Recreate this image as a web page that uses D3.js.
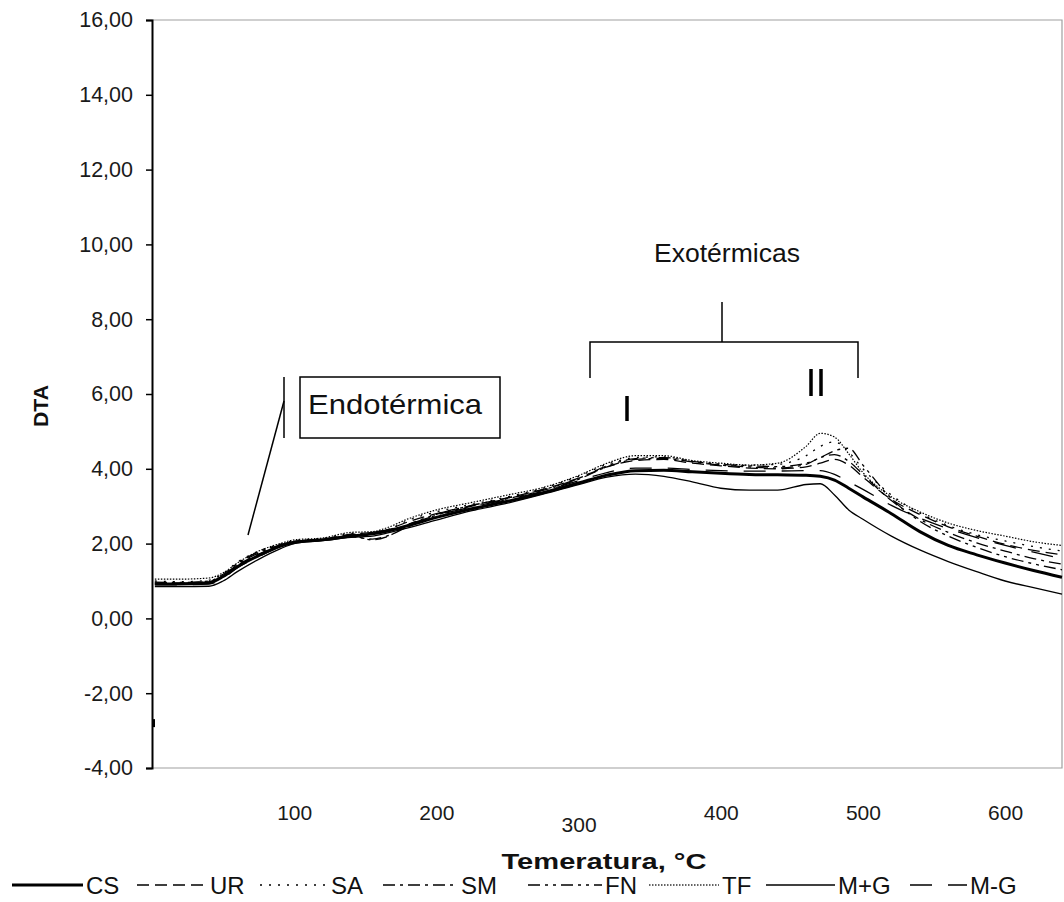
<!DOCTYPE html>
<html><head><meta charset="utf-8">
<script src="https://cdn.jsdelivr.net/npm/d3@7/dist/d3.min.js"></script>
<style>body{margin:0;background:#fff}svg{display:block}text{font-family:"Liberation Sans",Arial,sans-serif}</style>
</head><body><svg id="c" width="1064" height="902"></svg>
<script>
// ---- data ----
const temps = [2,20,40,50,60,75,90,100,120,140,155,165,180,200,225,250,275,300,320,340,360,380,400,420,440,460,470,480,490,500,520,540,560,580,600,620,640];
const seriesNames = ["CS","UR","SA","SM","FN","TF","M+G","M-G"];
const valsCS  = [0.92,0.92,0.95,1.12,1.38,1.68,1.93,2.03,2.10,2.20,2.26,2.33,2.48,2.70,2.93,3.13,3.36,3.62,3.83,3.95,3.96,3.92,3.88,3.85,3.84,3.83,3.80,3.70,3.48,3.25,2.80,2.32,1.95,1.70,1.48,1.28,1.10];
const valsUR  = [0.95,0.95,0.98,1.15,1.42,1.72,1.95,2.06,2.12,2.25,2.30,2.37,2.58,2.80,3.02,3.22,3.45,3.75,4.05,4.22,4.25,4.15,4.08,4.02,4.00,4.05,4.15,4.25,4.10,3.78,3.18,2.78,2.45,2.20,1.98,1.82,1.70];
const valsSA  = [1.00,0.98,1.02,1.20,1.50,1.80,1.98,2.08,2.14,2.27,2.28,2.36,2.62,2.85,3.05,3.25,3.48,3.80,4.12,4.30,4.32,4.20,4.12,4.10,4.12,4.35,4.60,4.72,4.45,4.00,3.30,2.82,2.48,2.24,2.07,1.92,1.80];
const valsSM  = [0.93,0.94,0.97,1.14,1.44,1.75,1.96,2.05,2.10,2.18,2.12,2.20,2.45,2.76,3.00,3.20,3.42,3.72,4.05,4.25,4.28,4.18,4.10,4.05,4.02,4.12,4.30,4.38,4.20,3.85,3.15,2.65,2.30,2.02,1.80,1.60,1.45];
const valsFN  = [0.97,0.96,1.00,1.18,1.47,1.78,1.97,2.06,2.11,2.20,2.10,2.18,2.50,2.78,3.02,3.22,3.44,3.74,4.08,4.27,4.30,4.20,4.12,4.08,4.06,4.15,4.30,4.48,4.55,4.10,3.20,2.60,2.20,1.90,1.65,1.46,1.30];
const valsTF  = [1.05,1.05,1.08,1.22,1.48,1.80,2.00,2.10,2.15,2.30,2.32,2.42,2.66,2.90,3.10,3.30,3.50,3.82,4.15,4.35,4.35,4.22,4.15,4.10,4.15,4.60,4.95,4.85,4.40,3.90,3.25,2.85,2.55,2.35,2.20,2.05,1.95];
const valsMpG = [0.85,0.85,0.86,1.00,1.25,1.58,1.86,2.00,2.08,2.17,2.20,2.28,2.42,2.63,2.88,3.08,3.32,3.58,3.78,3.86,3.80,3.65,3.48,3.43,3.43,3.58,3.60,3.30,2.90,2.65,2.20,1.83,1.52,1.25,1.00,0.82,0.65];
const valsMmG = [0.90,0.90,0.92,1.08,1.35,1.65,1.92,2.05,2.12,2.23,2.30,2.36,2.52,2.75,2.98,3.18,3.40,3.68,3.90,4.02,4.02,3.98,3.95,3.94,3.94,3.95,3.95,3.85,3.65,3.45,3.02,2.68,2.40,2.16,1.95,1.77,1.60];
const yTicks = [-4,-2,0,2,4,6,8,10,12,14,16];
const xTicks = [100,200,300,400,500,600];
const xTitle = "Temeratura, °C";
const yTitle = "DTA";

// ---- styles / layout ----
const seriesVals = [valsCS,valsUR,valsSA,valsSM,valsFN,valsTF,valsMpG,valsMmG];
const dashes = ["", "12,6", "2,7", "12,5,3,5", "12,5,3,5,3,5", "1.5,1.5", "", "22,16"];
const widths = [3, 1.3, 1.3, 1.3, 1.3, 1.2, 1.3, 1.3];
const legendStart = [12,137,260,383,528,649,766,910];
const legendLen = [71,70,68,75,74,70,69,57];

const svg = d3.select("#c");
const L = 152, R = 1062, T = 20, B = 768;
const x = d3.scaleLinear().domain([0, 640]).range([L, R]);
const y = d3.scaleLinear().domain([-4, 16]).range([B, T]);

// plot border (grey)
svg.append("path").attr("d", `M${L},${T}H${R}V${B}H${L}`)
  .attr("fill", "none").attr("stroke", "#a0a0a0").attr("stroke-width", 1.2);

// y axis
const loc = d3.formatLocale({decimal: ",", thousands: ".", grouping: [3], currency: ["", ""], minus: "-"});
const fmt = loc.format(".2f");
const ya = svg.append("g").attr("transform", `translate(${L},0)`)
  .call(d3.axisLeft(y).tickValues(yTicks).tickFormat(fmt).tickSize(6).tickPadding(13));
ya.select(".domain").attr("stroke", "#000").attr("stroke-width", 2);
ya.selectAll(".tick line").attr("stroke", "#000").attr("stroke-width", 1.5);
ya.selectAll(".tick text").attr("font-size", 21.5).attr("fill", "#1a1a1a")
  .attr("font-family", "Liberation Sans, Arial, sans-serif");
svg.append("rect").attr("x", L).attr("y", y(-2.8) - 4).attr("width", 3).attr("height", 8).attr("fill", "#000");

// x axis labels (no axis line)
const xa = svg.append("g").attr("transform", `translate(0,${B})`)
  .call(d3.axisBottom(x).tickValues(xTicks).tickFormat(d => String(d)).tickSize(0).tickPadding(37));
xa.select(".domain").remove();
xa.selectAll(".tick text").attr("font-size", 21).attr("fill", "#1a1a1a")
  .attr("font-family", "Liberation Sans, Arial, sans-serif")
  .attr("dy", d => d === 300 ? "1.27em" : "0.71em");

// axis titles
svg.append("text").attr("x", 604).attr("y", 869).attr("text-anchor", "middle")
  .attr("font-size", 22).attr("font-weight", "bold").attr("fill", "#111")
  .attr("textLength", 205).attr("lengthAdjust", "spacingAndGlyphs").text(xTitle);
svg.append("text").attr("transform", "translate(48,406) rotate(-90)").attr("text-anchor", "middle")
  .attr("font-size", 20).attr("font-weight", "bold").attr("fill", "#111")
  .attr("textLength", 42).attr("lengthAdjust", "spacingAndGlyphs").text(yTitle);

// series lines
const line = d3.line().x((d, i) => x(temps[i])).y(d => y(d)).curve(d3.curveMonotoneX);
const gl = svg.append("g");
seriesVals.forEach((vals, k) => {
  gl.append("path").datum(vals).attr("d", line)
    .attr("fill", "none").attr("stroke", "#000")
    .attr("stroke-width", widths[k])
    .attr("stroke-dasharray", dashes[k] || null);
});

// annotations
const ann = svg.append("g").attr("stroke", "#000").attr("fill", "none");
ann.append("path").attr("d", "M722,302V342M590,378V342H858V378").attr("stroke-width", 1.5);
ann.append("rect").attr("x", 300).attr("y", 377).attr("width", 200).attr("height", 61).attr("stroke-width", 1.5);
ann.append("path").attr("d", "M284,377V438").attr("stroke-width", 1.5);
ann.append("path").attr("d", "M284,401L248,535").attr("stroke-width", 1.5);
ann.append("path").attr("d", "M627,396V421").attr("stroke-width", 3.5);
ann.append("path").attr("d", "M811,369V396M821,369V396").attr("stroke-width", 3.5);
svg.append("text").attr("x", 727).attr("y", 262).attr("text-anchor", "middle")
  .attr("font-size", 26).attr("fill", "#111").attr("textLength", 146).attr("lengthAdjust", "spacingAndGlyphs").text("Exotérmicas");
svg.append("text").attr("x", 308).attr("y", 414)
  .attr("font-size", 28).attr("fill", "#111").attr("textLength", 174).attr("lengthAdjust", "spacingAndGlyphs").text("Endotérmica");

// legend
const lg = svg.append("g");
const ly = 885;
seriesNames.forEach((name, k) => {
  const x0 = legendStart[k], x1 = x0 + legendLen[k];
  lg.append("line").attr("x1", x0).attr("x2", x1).attr("y1", ly).attr("y2", ly)
    .attr("stroke", k === 5 ? "#333" : "#000").attr("stroke-width", k === 0 ? 3 : 1.5)
    .attr("stroke-dasharray", dashes[k] || null);
  lg.append("text").attr("x", x1 + 3).attr("y", ly + 9)
    .attr("font-size", 24).attr("fill", "#111").text(name);
});
</script></body></html>
